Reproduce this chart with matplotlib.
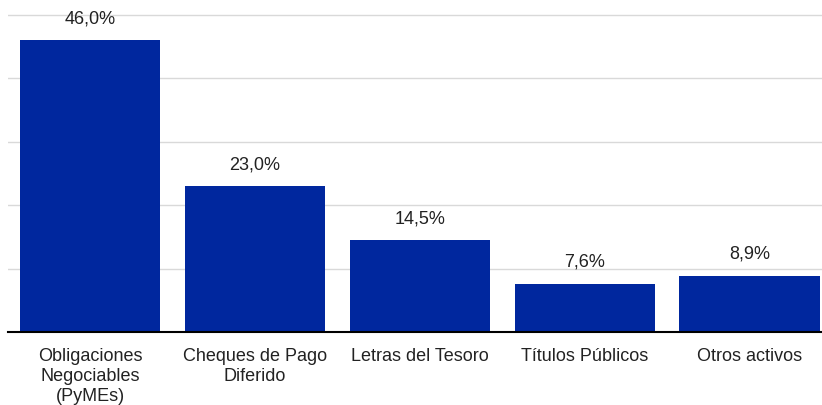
import matplotlib.pyplot as plt

plt.rcParams['font.family'] = ['Liberation Sans', 'DejaVu Sans']

categories = ['Obligaciones\nNegociables\n(PyMEs)', 'Cheques de Pago\nDiferido',
              'Letras del Tesoro', 'Títulos Públicos', 'Otros activos']
values = [46.0, 23.0, 14.5, 7.6, 8.9]
labels = ['46,0%', '23,0%', '14,5%', '7,6%', '8,9%']

fig = plt.figure(figsize=(8.22, 4.06), dpi=100)
ax = fig.add_axes([7.5 / 822, (406 - 333) / 406, (822 - 7.5) / 822, (333 - 14) / 406])

x = list(range(len(values)))
bars = ax.bar(x, values, width=0.85, color='#00279E', zorder=3)

for b, lab in zip(bars, labels):
    ax.annotate(lab, (b.get_x() + b.get_width() / 2, b.get_height()),
                xytext=(0, 10), textcoords='offset points', ha='center', va='bottom',
                fontsize=13, color='#222222')

ax.set_xlim(-0.5, 4.44)
ax.set_ylim(0, 50.3)
ax.set_yticks([0, 10, 20, 30, 40, 50])
ax.set_yticklabels([])
ax.tick_params(axis='y', length=0)
ax.tick_params(axis='x', length=0, pad=11, labelsize=13, labelcolor='#222222')
ax.set_xticks(x)
ax.set_xticklabels(categories, linespacing=1.22)
ax.grid(axis='y', color='#d9d9d9', linewidth=1, zorder=0)
for s in ['top', 'right', 'left']:
    ax.spines[s].set_visible(False)
ax.spines['bottom'].set_linewidth(1.5)
ax.spines['bottom'].set_zorder(4)

fig.savefig('out.png', dpi=100)
